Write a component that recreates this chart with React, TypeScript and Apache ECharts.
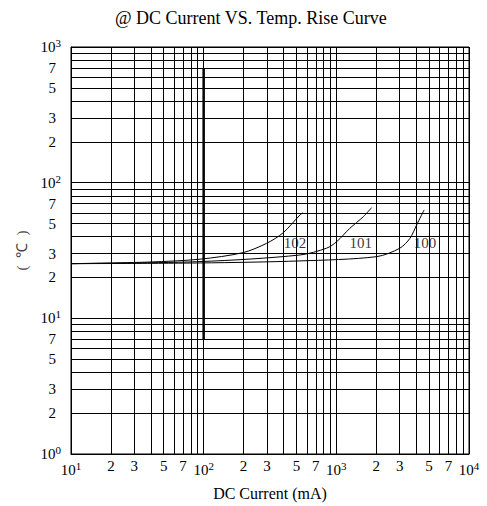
import React, { useEffect, useRef } from "react";
import * as echarts from "echarts";

const titleText = "@ DC Current VS. Temp. Rise Curve";
const xName = "DC Current (mA)";
const yName = "(  ℃  )";

const xDecades = [10, 100, 1000];
const yDecades = [1, 10, 100];
const minorMultipliers = [2, 3, 4, 5, 6, 7, 8, 9];
const labeledMultipliers = [2, 3, 5, 7];

const curve102: [number, number][] = [
  [10, 25.3], [39, 26.0], [94, 27.3], [198, 30.5], [298, 35.7], [396, 42.6], [532, 57.8], [560, 60],
];
const curve101: [number, number][] = [
  [10, 25.3], [94, 26.2], [532, 29.3], [845, 32.9], [1005, 36.7], [1265, 46.1], [1597, 56.1], [1845, 65.5],
];
const curve100: [number, number][] = [
  [10, 25.3], [94, 25.6], [532, 26.5], [2015, 28.5], [3013, 32.9], [3590, 38.9], [4030, 48.8], [4590, 63],
];
const curveLabels: [number, number, string][] = [
  [488, 36, "102"],
  [1531, 36, "101"],
  [4656, 36, "100"],
];
const markerBar: [number, number][] = [
  [100, 7],
  [100, 700],
];

const FONT = "'Liberation Serif', 'Times New Roman', serif";
const supMap: Record<number, string> = { 1: "0", 10: "1", 100: "2", 1000: "3", 10000: "4" };

export default function App() {
  const ref = useRef<HTMLDivElement>(null);
  useEffect(() => {
    if (!ref.current) return;
    const chart = echarts.init(ref.current, null, { renderer: "svg" });

    const gridLine = { color: "#000", width: 1, type: "solid" as const };
    const vLines: any[] = [];
    xDecades.forEach((d) =>
      minorMultipliers.forEach((m) => {
        const lab = labeledMultipliers.includes(m);
        vLines.push({
          xAxis: d * m,
          label: { show: lab, formatter: String(m) },
        });
      })
    );
    const hLines: any[] = [];
    yDecades.forEach((d) =>
      minorMultipliers.forEach((m) => {
        const lab = labeledMultipliers.includes(m);
        hLines.push({
          yAxis: d * m,
          label: { show: lab, formatter: String(m), distance: 15 },
        });
      })
    );

    const rich = {
      a: { fontSize: 15, fontFamily: FONT, color: "#000" },
      s: { fontSize: 11, fontFamily: FONT, color: "#000", padding: [0, 0, 8, 0] },
    };
    const decadeFmt = (v: number) => {
      const key = Math.round(v);
      const s = supMap[key];
      return s === undefined ? "" : `{a|10}{s|${s}}`;
    };

    chart.setOption({
      animation: false,
      title: {
        text: titleText,
        left: 110,
        top: 4,
        textStyle: { fontFamily: FONT, fontSize: 18, fontWeight: "normal", color: "#000" },
      },
      grid: {
        left: 71,
        right: 18,
        top: 47,
        bottom: 52,
        show: true,
        borderColor: "#000",
        borderWidth: 1,
      },
      xAxis: {
        type: "log",
        logBase: 10,
        min: 10,
        max: 10000,
        name: xName,
        nameLocation: "middle",
        nameGap: 31,
        nameTextStyle: { fontFamily: FONT, fontSize: 16, color: "#000" },
        axisLine: { show: true, lineStyle: { color: "#000" } },
        axisTick: { show: false },
        splitLine: { show: true, lineStyle: gridLine },
        minorTick: { show: false },
        minorSplitLine: { show: false },
        axisLabel: { formatter: decadeFmt, rich, margin: 6 },
      },
      yAxis: {
        type: "log",
        logBase: 10,
        min: 1,
        max: 1000,
        name: yName,
        nameLocation: "middle",
        nameGap: 42,
        nameTextStyle: { fontFamily: FONT, fontSize: 15, color: "#444" },
        axisLine: { show: true, lineStyle: { color: "#000" } },
        axisTick: { show: false },
        splitLine: { show: true, lineStyle: gridLine },
        minorTick: { show: false },
        minorSplitLine: { show: false },
        axisLabel: { formatter: decadeFmt, rich, margin: 10 },
      },
      series: [
        {
          type: "line",
          name: "marker",
          data: markerBar,
          symbol: "none",
          lineStyle: { color: "#000", width: 2.5 },
          silent: true,
          markLine: {
            silent: true,
            symbol: "none",
            animation: false,
            lineStyle: gridLine,
            label: {
              position: "start",
              fontFamily: FONT,
              fontSize: 15,
              color: "#000",
              distance: 4,
            },
            data: [...vLines, ...hLines],
          },
        },
        {
          type: "line",
          name: "102",
          data: curve102,
          symbol: "none",
          smooth: 0.3,
          lineStyle: { color: "#000", width: 1 },
        },
        {
          type: "line",
          name: "101",
          data: curve101,
          symbol: "none",
          smooth: 0.3,
          lineStyle: { color: "#000", width: 1 },
        },
        {
          type: "line",
          name: "100",
          data: curve100,
          symbol: "none",
          smooth: 0.3,
          lineStyle: { color: "#000", width: 1 },
        },
        {
          type: "scatter",
          name: "labels",
          data: curveLabels.map((c) => ({ value: [c[0], c[1]], name: c[2] })),
          symbolSize: 0,
          label: {
            show: true,
            position: "inside",
            formatter: (p: any) => p.name,
            fontFamily: FONT,
            fontSize: 15,
            color: "#000",
            backgroundColor: "#fff",
            padding: 0,
          },
        },
      ],
    });
    return () => chart.dispose();
  }, []);
  return <div ref={ref} style={{ width: 487, height: 506, position: "absolute", left: 0, top: 0 }} />;
}
